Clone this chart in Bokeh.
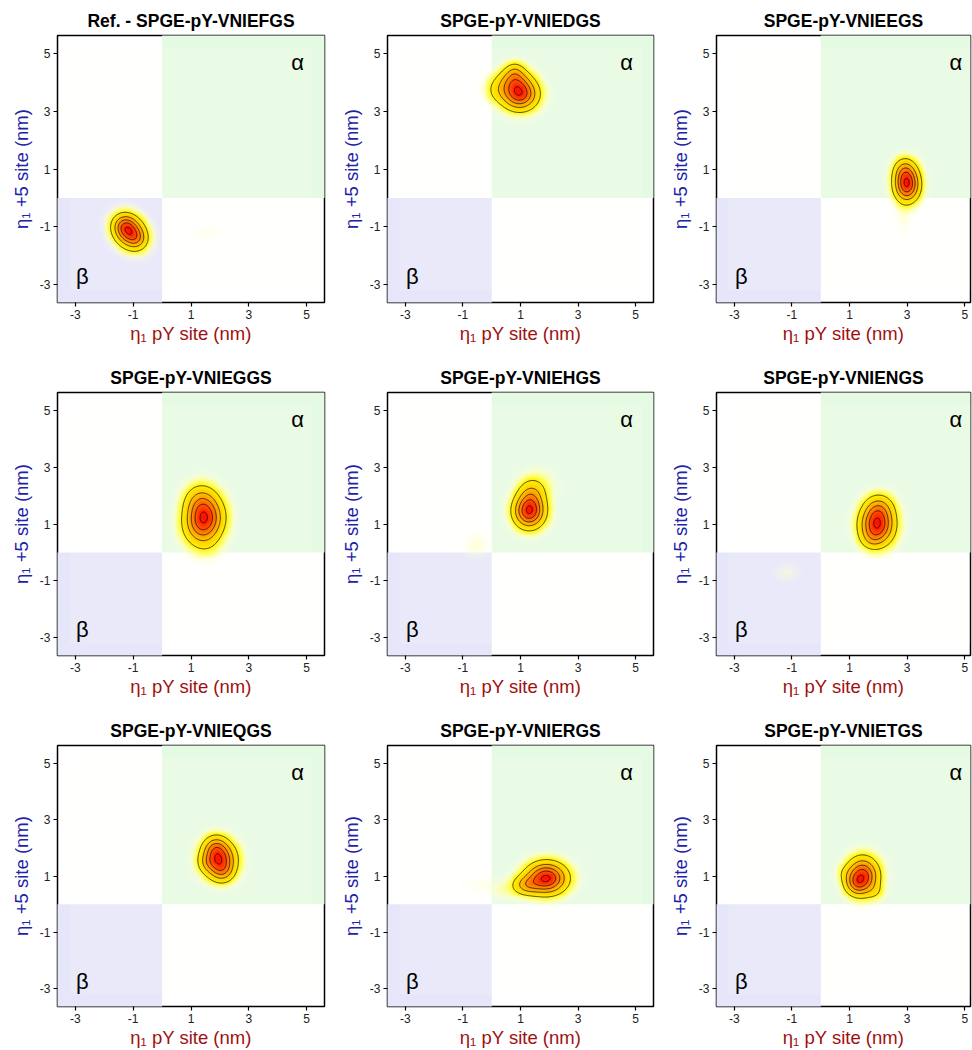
import numpy as np
from bokeh.plotting import figure
from bokeh.layouts import column, row
from bokeh.models import FixedTicker, LinearColorMapper, Range1d
from bokeh.core.properties import value
from bokeh.embed import file_html
from bokeh.resources import INLINE

# ---------------- data ----------------
PANEL_TITLES = [
    "Ref. - SPGE-pY-VNIEFGS", "SPGE-pY-VNIEDGS", "SPGE-pY-VNIEEGS",
    "SPGE-pY-VNIEGGS", "SPGE-pY-VNIEHGS", "SPGE-pY-VNIENGS",
    "SPGE-pY-VNIEQGS", "SPGE-pY-VNIERGS", "SPGE-pY-VNIETGS",
]
TICKS = [-3, -1, 1, 3, 5]
TICK_LABELS = ["-3", "-1", "1", "3", "5"]
X_LABEL = "η₁ pY site (nm)"
Y_LABEL = "η₁ +5 site (nm)"

# density components (centre x, centre y, spread x, spread y, tilt, weight)
BLOB_X = [
    [-1.12, -1.30, -0.85, 1.5],
    [0.97, 0.78, 0.80, 0.25],
    [2.99, 2.92, 2.85],
    [1.45, 1.35, 1.55],
    [1.30, 1.38, 1.6, -0.55],
    [1.95, 2.02, 1.75, -1.2],
    [1.95, 1.85, 2.10, 1.55],
    [1.90, 1.2, -0.5, 0.5],
    [1.45, 1.22, 1.90, 0.85],
]
BLOB_Y = [
    [-1.20, -0.95, -1.45, -1.25],
    [3.60, 4.10, 4.40, 3.75],
    [0.45, 0.95, -0.7],
    [1.10, 1.75, 0.3],
    [1.45, 2.05, 2.4, 0.25],
    [0.95, 1.55, 0.45, -0.7],
    [1.60, 2.05, 1.15, 1.45],
    [0.92, 0.68, 0.7, 0.5],
    [1.00, 0.72, 0.45, 1.10],
]
BLOB_SX = [
    [0.33, 0.25, 0.20, 0.40],
    [0.38, 0.32, 0.20, 0.30],
    [0.27, 0.25, 0.20],
    [0.40, 0.36, 0.35],
    [0.33, 0.30, 0.40, 0.30],
    [0.36, 0.32, 0.25, 0.30],
    [0.36, 0.26, 0.26, 0.20],
    [0.43, 0.30, 0.55, 0.40],
    [0.34, 0.25, 0.20, 0.20],
]
BLOB_SY = [
    [0.34, 0.25, 0.20, 0.20],
    [0.34, 0.28, 0.20, 0.30],
    [0.36, 0.28, 0.45],
    [0.46, 0.40, 0.35],
    [0.36, 0.32, 0.35, 0.30],
    [0.42, 0.32, 0.22, 0.20],
    [0.38, 0.26, 0.26, 0.20],
    [0.34, 0.22, 0.20, 0.25],
    [0.40, 0.25, 0.20, 0.20],
]
BLOB_RHO = [
    [-0.2, 0.0, 0.0, 0.0],
    [0.0, 0.0, 0.0, 0.0],
    [0.0, 0.0, 0.0],
    [0.1, 0.0, 0.0],
    [0.0, 0.0, 0.0, 0.0],
    [0.0, 0.0, 0.0, 0.0],
    [0.0, 0.0, 0.0, 0.0],
    [0.0, 0.0, 0.0, 0.0],
    [0.0, 0.0, 0.0, 0.0],
]
BLOB_W = [
    [1.0, 0.3, 0.15, 0.02],
    [1.0, 0.45, 0.15, 0.2],
    [1.0, 0.35, 0.025],
    [1.0, 0.45, 0.08],
    [1.0, 0.3, 0.06, 0.03],
    [1.0, 0.35, 0.12, 0.025],
    [1.0, 0.3, 0.3, 0.1],
    [1.0, 0.35, 0.015, 0.04],
    [1.0, 0.35, 0.1, 0.08],
]
CONTOUR_LEVELS = [0.15, 0.35, 0.55, 0.75, 0.95]

# ---------------- styling ----------------
FONT = "Liberation Sans"
GRID_LO, GRID_HI, NGRID = -3.2, 5.2, 260
BETA_COLOR = "#E6E6FA"
ALPHA_COLOR = "#E5FAE2"

stops = [
    (0.00, (255, 255, 248, 0.15)),
    (0.03, (255, 255, 190, 0.70)),
    (0.08, (255, 255, 80, 0.95)),
    (0.15, (255, 238, 0, 1.0)),
    (0.32, (255, 205, 0, 1.0)),
    (0.52, (255, 155, 0, 1.0)),
    (0.72, (255, 100, 0, 1.0)),
    (0.90, (255, 45, 0, 1.0)),
    (1.00, (255, 15, 0, 1.0)),
]
sv = np.array([s[0] for s in stops])
sc = np.array([s[1] for s in stops], dtype=float)
palette = []
for t in np.linspace(0, 1, 256):
    r, g, b, a = [np.interp(t, sv, sc[:, k]) for k in range(4)]
    palette.append("#%02X%02X%02X%02X" % (int(round(r)), int(round(g)), int(round(b)), int(round(a * 255))))
mapper = LinearColorMapper(palette=palette, low=0, high=1)

gx = np.linspace(GRID_LO, GRID_HI, NGRID)
gy = np.linspace(GRID_LO, GRID_HI, NGRID)
GX, GY = np.meshgrid(gx, gy)


def density(i):
    D = np.zeros_like(GX)
    for cx, cy, sx, sy, rho, w in zip(BLOB_X[i], BLOB_Y[i], BLOB_SX[i], BLOB_SY[i], BLOB_RHO[i], BLOB_W[i]):
        dx = (GX - cx) / sx
        dy = (GY - cy) / sy
        q = (dx * dx - 2 * rho * dx * dy + dy * dy) / (1 - rho * rho)
        D += w * np.exp(-0.5 * q)
    return D / D.max()


COL_W = [337, 329, 306]
COL_LEFT = [57, 49, 49]
ROW_H = [360, 353, 337]
ROW_TOP = [35, 28, 28]
FRAME = 267

figs = []
for i, title in enumerate(PANEL_TITLES):
    r, c = divmod(i, 3)
    w, h = COL_W[c], ROW_H[r]
    right = w - COL_LEFT[c] - FRAME if c < 2 else 2
    x_end = 5.62 if c < 2 else 5.20
    p = figure(width=w, height=h, x_range=Range1d(-3.62, x_end), y_range=Range1d(-3.62, 5.62),
               output_backend="svg", toolbar_location=None,
               min_border_left=COL_LEFT[c], min_border_right=right,
               min_border_top=ROW_TOP[r], min_border_bottom=h - ROW_TOP[r] - FRAME)
    p.background_fill_color = "white"
    p.xgrid.visible = False
    p.ygrid.visible = False
    p.outline_line_color = "black"
    p.outline_line_width = 1.5
    p.outline_line_alpha = 1.0

    p.title.text = title
    p.title.align = "center"
    p.title.text_font = FONT
    p.title.text_font_style = "bold"
    p.title.text_font_size = "17.5px"
    p.title.text_color = "black"
    p.title.standoff = 10

    # quadrant backgrounds
    p.quad(left=-10, right=0, bottom=-10, top=0, fill_color=BETA_COLOR, line_color=None)
    p.quad(left=0, right=10, bottom=0, top=10, fill_color=ALPHA_COLOR, line_color=None)

    D = density(i)
    p.image(image=[D], x=GRID_LO, y=GRID_LO, dw=GRID_HI - GRID_LO, dh=GRID_HI - GRID_LO, color_mapper=mapper)
    p.contour(x=gx, y=gy, z=D, levels=CONTOUR_LEVELS, line_color="black", line_width=0.75, line_alpha=0.9)

    p.text(x=[4.69], y=[4.68], text=["α"], text_font=value(FONT), text_font_size="22px",
           text_align="center", text_baseline="middle", text_color="black")
    p.text(x=[-2.76], y=[-2.72], text=["β"], text_font=value(FONT), text_font_size="22px",
           text_align="center", text_baseline="middle", text_color="black")

    for ax in (p.xaxis[0], p.yaxis[0]):
        ax.ticker = FixedTicker(ticks=TICKS)
        ax.major_label_overrides = dict(zip(TICKS, TICK_LABELS))
        ax.minor_tick_line_color = None
        ax.major_tick_out = 4
        ax.major_tick_in = 0
        ax.major_tick_line_color = "black"
        ax.major_tick_line_width = 1.2
        ax.axis_line_color = None
        ax.major_label_text_font = FONT
        ax.major_label_text_font_size = "12px"
        ax.major_label_text_color = "#222222"
        ax.major_label_standoff = 3
        ax.axis_label_text_font = FONT
        ax.axis_label_text_font_size = "18.5px"
        ax.axis_label_text_font_style = "normal"
    p.xaxis.axis_label = X_LABEL
    p.xaxis.axis_label_text_color = "#A01010"
    p.xaxis.axis_label_standoff = 1
    p.yaxis.axis_label = Y_LABEL
    p.yaxis.axis_label_text_color = "#2222A8"
    p.yaxis.axis_label_standoff = 5
    figs.append(p)

layout = column(row(*figs[0:3]), row(*figs[3:6]), row(*figs[6:9]))
open("out.html", "w").write(file_html(layout, INLINE))
